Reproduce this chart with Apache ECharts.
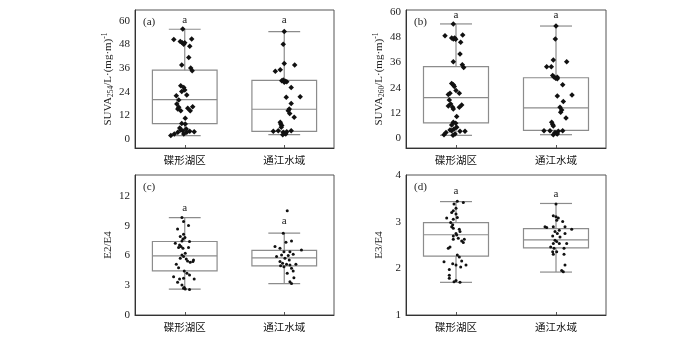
<!DOCTYPE html>
<html>
<head>
<meta charset="utf-8">
<script src="https://cdn.jsdelivr.net/npm/echarts@6/dist/echarts.min.js"></script>
<style>
  html, body { margin: 0; padding: 0; background: #fff; }
  #chart { width: 700px; height: 337px; }
</style>
</head>
<body>
<div id="chart"></div>
<script>
// Sampling areas
const categories = ['碟形湖区', '通江水域'];

// Box statistics per area: [lower whisker, Q1, median, Q3, upper whisker]
const suva254Box = [[1.7, 7.8, 20.0, 35.0, 55.8], [2.2, 3.9, 15.1, 29.8, 54.6]];
const suva260Box = [[1.4, 7.3, 19.3, 34.0, 54.2], [1.7, 3.8, 14.4, 28.7, 53.2]];
const e2e4Box = [[2.6, 4.44, 5.95, 7.4, 9.8], [3.16, 4.94, 5.75, 6.5, 8.24]];
const e3e4Box = [[1.70, 2.26, 2.72, 2.98, 3.43], [1.92, 2.44, 2.61, 2.85, 3.39]];

// Individual samples: [value, horizontal jitter in % of category band]
const suva254Lake = [[55.9,-2],[50.6,-11],[49.6,-4.5],[48.9,-2.5],[48.2,-1],[48.9,0],[50.8,7],[47.1,5],[41.5,4],[37.6,-3],[36.1,6],[34.7,7.5],[27.1,-4],[26.2,-1],[24.9,0],[22.3,2],[22.0,-8.5],[24.2,-3],[19.8,-6],[17.8,-8],[15.2,-7],[14.4,-4],[14.4,5.5],[16.4,8],[15.6,3],[16.1,-6],[10.5,0.5],[7.9,-3],[7.6,0.5],[5.6,-5],[5.1,1.5],[4.2,-2],[3.4,-7],[3.9,5],[1.7,-14],[2.5,-10.5],[3.7,9.5],[2.5,-1],[3.4,2],[4.6,-4]];
const suva254River = [[54.6,0],[48.2,-1],[38.4,0],[37.6,10.5],[35.2,-4],[34.4,-9],[30.0,-1],[29.4,1],[29.1,2.5],[29.6,-2.5],[28.8,0],[26.2,7],[21.5,16],[21.2,2],[18.1,7],[15.3,5],[14.4,4],[13.0,5.5],[11.0,10],[8.5,-4],[7.6,-3.5],[6.8,-2.5],[6.0,-3],[3.9,-11],[4.2,-6],[3.4,-1],[2.9,0.5],[3.7,2.5],[4.2,7],[2.2,-1.5],[2.5,1.5]];
const suva260Lake = [[54.2,-2.7],[48.6,-11],[47.5,-4.3],[47.0,-2.7],[47.5,-1.3],[46.9,-0.3],[48.9,6.7],[45.5,4.7],[39.9,4],[36.3,-2.7],[34.9,6.3],[33.6,7.7],[26.0,-4.3],[25.4,-2.7],[24.5,-1.7],[22.6,0],[21.3,-6],[20.7,-7.7],[21.3,3.3],[18.2,-6.7],[16.3,-5.3],[15.3,-7.7],[14.7,-3.3],[15.8,5.7],[14.7,3.3],[13.9,-2.7],[10.3,0.7],[7.6,-2.7],[7.1,-0.3],[6.3,-4.3],[5.2,0.7],[4.4,-2],[3.6,-4.3],[2.8,-10],[3.3,4],[1.7,-12],[3.3,9],[2.0,-1],[3.9,-6],[1.4,-3]];
const suva260River = [[53.2,0],[47.0,-0.7],[37.1,-2.7],[36.3,10.7],[33.9,-9.3],[33.9,-4.7],[29.7,-3.3],[29.1,-2],[28.9,1.3],[28.4,-0.3],[28.2,1.3],[25.4,6.7],[20.5,16],[20.0,1.3],[17.4,7.3],[14.7,4],[13.4,5.7],[12.3,4.7],[9.6,10],[7.6,-4.3],[6.5,-3.3],[5.8,-2.7],[3.6,-12],[3.6,-6],[2.8,-1],[2.3,0.7],[3.3,2.3],[3.6,6.7],[1.7,-2.7],[2.0,1.3]];
const e2e4Lake = [[9.81,-2.8],[9.41,-1.2],[9.01,3.8],[8.67,-7.2],[8.13,-1.2],[7.9,-4.5],[7.8,0.2],[7.66,-1.8],[7.46,-2.8],[7.39,4.8],[7.22,-9.5],[7.06,-5.2],[6.89,-3.8],[6.79,-6.2],[6.72,-1.8],[6.79,3.8],[6.22,0.5],[6.05,-2.8],[5.88,-1.2],[5.71,-4.5],[5.65,1.5],[5.44,2.8],[5.31,5.5],[5.38,8.2],[5.55,8.8],[5.11,-8.5],[4.77,-6.2],[4.44,-0.5],[4.2,2.2],[4.03,4.8],[3.86,-11.2],[3.63,-5.2],[3.7,-1.2],[3.63,9.5],[3.29,-7.2],[3.02,-2.8],[2.69,-1.2],[2.62,0.5],[2.58,4.8],[2.76,-0.5]];
const e2e4River = [[10.5,3],[8.23,-1],[7.46,7.3],[7.33,1.7],[6.89,-9.3],[6.72,-4.3],[6.55,17.3],[6.38,-0.3],[6.38,5.7],[6.12,9],[5.98,4],[6.05,-2.7],[5.88,-7.7],[5.71,0.7],[5.55,5],[5.38,-4.3],[5.21,-1.7],[5.11,2.3],[5.04,5.7],[5.11,11.7],[4.87,-0.3],[4.97,-3.7],[4.7,7.3],[4.44,9],[4.2,3],[3.76,9.7],[3.36,5.7],[3.16,7.3]];
const e3e4Lake = [[3.435,1.3],[3.41,7.3],[3.377,-2],[3.29,0],[3.234,-2.7],[3.198,-4.3],[3.162,0],[3.076,-9.3],[3.054,-2.7],[3.09,1.3],[2.982,-5.3],[2.932,-3.3],[2.889,-4.3],[2.86,-2.7],[2.839,3.3],[2.788,4],[2.745,0],[2.695,-2.7],[2.716,0.7],[2.645,2.3],[2.623,8.3],[2.587,5.7],[2.551,7.3],[2.623,-2.7],[2.458,-6],[2.429,-7.7],[2.285,1.3],[2.242,3.3],[2.142,-12],[2.099,-3.3],[2.07,0],[2.156,5.7],[2.027,4.7],[2.07,10],[1.977,-6.7],[1.854,-6.7],[1.79,-6.7],[1.711,-2],[1.74,0],[1.70,4]];
const e3e4River = [[3.377,0],[3.126,-2.7],[3.104,0],[3.076,2.3],[3.033,0.7],[3.004,6.7],[2.889,-11],[2.875,-9.3],[2.889,-2.7],[2.889,9],[2.817,3.3],[2.788,-1],[2.745,1.3],[2.745,9],[2.695,-3.3],[2.839,15.7],[2.673,4],[2.601,-1],[2.573,0.7],[2.53,-2.7],[2.53,3.3],[2.53,10.7],[2.458,-5.3],[2.429,-2],[2.429,8],[2.357,-3.3],[2.357,0.7],[2.3,-2.7],[2.3,8],[2.07,9],[1.955,5.7],[1.926,7.3]];

// Significance letters and the value at which each is printed
const sigLetters = ['a', 'a'];
const suva254SigY = [60.4, 60.4];
const suva260SigY = [58.4, 58.4];
const e2e4SigY = [10.8, 9.5];
const e3e4SigY = [3.66, 3.60];

// Y tick labels
const suvaTicks = [0, 12, 24, 36, 48, 60];
const e2e4Ticks = [0, 3, 6, 9, 12];
const e3e4Ticks = [1, 2, 3, 4];

const SERIF = '"Liberation Serif", "Times New Roman", "Noto Sans CJK SC", serif';
const BOX_COLOR = '#8c8c8c';

const panels = [
  { tag: '(a)', box: suva254Box, pts: [suva254Lake, suva254River], sig: suva254SigY, ticks: suvaTicks,
    min: -4.6, max: 65.6, symbol: 'diamond', size: 5.5,
    name: '{m|SUVA}{s|254}{m|/L·(mg·m)}{p|-1}',
    grid: { left: 135, top: 10, width: 199, height: 138 } },
  { tag: '(b)', box: suva260Box, pts: [suva260Lake, suva260River], sig: suva260SigY, ticks: suvaTicks,
    min: -4.6, max: 60.8, symbol: 'diamond', size: 5.5,
    name: '{m|SUVA}{s|260}{m|/L·(mg·m)}{p|-1}',
    grid: { left: 406, top: 10, width: 200, height: 138 } },
  { tag: '(c)', box: e2e4Box, pts: [e2e4Lake, e2e4River], sig: e2e4SigY, ticks: e2e4Ticks,
    min: 0, max: 14.1, symbol: 'circle', size: 3,
    name: '{m|E2/E4}',
    grid: { left: 135, top: 175, width: 199, height: 140 } },
  { tag: '(d)', box: e3e4Box, pts: [e3e4Lake, e3e4River], sig: e3e4SigY, ticks: e3e4Ticks,
    min: 1, max: 4, symbol: 'circle', size: 3,
    name: '{m|E3/E4}',
    grid: { left: 406, top: 175, width: 200, height: 140 } }
];

const grid = [], xAxis = [], yAxis = [], series = [], graphic = [];
const n = panels.length;

panels.forEach((p, i) => {
  grid.push(Object.assign({ show: true, borderColor: '#555', borderWidth: 1, backgroundColor: 'transparent' }, p.grid));

  // category axis carrying the labels and the boxes
  xAxis[i] = {
    type: 'category', gridIndex: i, data: categories, boundaryGap: true,
    axisLine: { onZero: false, lineStyle: { color: '#333', width: 1 } },
    axisTick: { show: true, inside: true, alignWithLabel: true, length: 3, lineStyle: { color: '#555' } },
    axisLabel: { fontFamily: SERIF, fontSize: 10.5, color: '#111', margin: 8 },
    splitLine: { show: false }
  };
  // continuous companion axis for jittered samples (0..2 = both bands)
  xAxis[n + i] = {
    type: 'value', gridIndex: i, min: 0, max: 2, show: false, splitLine: { show: false }
  };
  yAxis[i] = {
    type: 'value', gridIndex: i, min: p.min, max: p.max,
    axisLine: { show: true, onZero: false, lineStyle: { color: '#333', width: 1 } },
    axisTick: { show: false },
    axisLabel: { fontFamily: SERIF, fontSize: 11, color: '#222', margin: 5, customValues: p.ticks },
    splitLine: { show: false },
    name: p.name, nameLocation: 'middle', nameGap: 20, nameRotate: 90,
    nameTextStyle: {
      fontFamily: SERIF, color: '#222',
      rich: {
        m: { fontFamily: SERIF, fontSize: 11, color: '#222', lineHeight: 14 },
        s: { fontFamily: SERIF, fontSize: 7.5, color: '#222', lineHeight: 14, verticalAlign: 'bottom', padding: [5, 0, 0, 0] },
        p: { fontFamily: SERIF, fontSize: 7.5, color: '#222', lineHeight: 14, verticalAlign: 'top', padding: [0, 0, 5, 0] }
      }
    }
  };

  // boxes with whiskers and short caps
  series.push({
    type: 'custom', xAxisIndex: i, yAxisIndex: i, z: 2,
    data: p.box.map((b, k) => [k].concat(b)),
    encode: { x: 0, y: [1, 2, 3, 4, 5] },
    renderItem: (params, api) => {
      const k = api.value(0);
      const band = api.size([1, 0])[0];
      const hw = band * 0.325, cw = band * 0.16;
      const lo = api.coord([k, api.value(1)]);
      const q1 = api.coord([k, api.value(2)]);
      const md = api.coord([k, api.value(3)]);
      const q3 = api.coord([k, api.value(4)]);
      const hi = api.coord([k, api.value(5)]);
      const cx = md[0];
      const st = { stroke: BOX_COLOR, lineWidth: 1.2, fill: null };
      return {
        type: 'group',
        children: [
          { type: 'rect', shape: { x: cx - hw, y: q3[1], width: 2 * hw, height: q1[1] - q3[1] }, style: st },
          { type: 'line', shape: { x1: cx - hw, y1: md[1], x2: cx + hw, y2: md[1] }, style: st },
          { type: 'line', shape: { x1: cx, y1: q3[1], x2: cx, y2: hi[1] }, style: st },
          { type: 'line', shape: { x1: cx, y1: q1[1], x2: cx, y2: lo[1] }, style: st },
          { type: 'line', shape: { x1: cx - cw, y1: hi[1], x2: cx + cw, y2: hi[1] }, style: st },
          { type: 'line', shape: { x1: cx - cw, y1: lo[1], x2: cx + cw, y2: lo[1] }, style: st }
        ]
      };
    }
  });

  // jittered samples
  p.pts.forEach((grp, k) => {
    series.push({
      type: 'scatter', xAxisIndex: n + i, yAxisIndex: i, z: 5,
      symbol: p.symbol, symbolSize: p.size,
      itemStyle: { color: '#111', opacity: 1 },
      data: grp.map(d => [k + 0.5 + d[1] / 100, d[0]]),
      silent: true
    });
  });

  // significance letters
  series.push({
    type: 'custom', xAxisIndex: i, yAxisIndex: i, z: 6,
    data: p.sig.map((v, k) => [k, v]),
    renderItem: (params, api) => {
      const c = api.coord([api.value(0), api.value(1)]);
      return {
        type: 'text',
        style: { x: c[0], y: c[1], text: sigLetters[params.dataIndex], fontFamily: SERIF, fontSize: 11,
                 fill: '#222', align: 'center', verticalAlign: 'middle' }
      };
    }
  });

  // panel tag
  graphic.push({
    type: 'text', left: p.grid.left + 8, top: p.grid.top + 7,
    style: { text: p.tag, fontFamily: SERIF, fontSize: 11, fill: '#222' }
  });
});

const chart = echarts.init(document.getElementById('chart'), null, { renderer: 'canvas' });
chart.setOption({
  animation: false,
  backgroundColor: '#fff',
  grid, xAxis, yAxis, series, graphic
});
</script>
</body>
</html>
